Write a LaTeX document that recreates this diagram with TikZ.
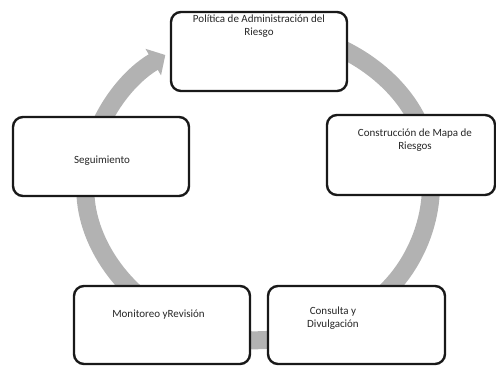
\documentclass[tikz,border=0pt]{standalone}
\usepackage{fontspec}
\setmainfont{Carlito}
\usetikzlibrary{arrows.meta}

\begin{document}
\begin{tikzpicture}[x=1pt,y=-1pt,
  caja/.style={draw=black!90,line width=2.4pt,rounded corners=10pt,fill=white,inner sep=0pt},
  texto/.style={align=center,inner sep=0pt,text=black!85,font=\fontsize{11}{13}\selectfont},
  anillo/.style={draw=black!30,line width=18pt,-{Triangle[length=14pt,width=30pt]}}]

  \useasboundingbox (0,0) rectangle (496,366);

  \coordinate (o) at (259,185);

  \draw[anillo] (o) ++(195:172 and 155) arc[start angle=195,end angle=237,x radius=172,y radius=155];
  \draw[anillo] (o) ++(280:172 and 155) arc[start angle=280,end angle=350,x radius=172,y radius=155];
  \draw[anillo] (o) ++(0:172 and 155) arc[start angle=0,end angle=57,x radius=172,y radius=155];
  \draw[anillo] (o) ++(80:172 and 155) arc[start angle=80,end angle=103,x radius=172,y radius=155];
  \draw[anillo] (o) ++(120:172 and 155) arc[start angle=120,end angle=190,x radius=172,y radius=155];

  \node[caja,minimum width=176pt,minimum height=79pt] (pol) at (259,51.5) {};
  \node[caja,minimum width=168pt,minimum height=80pt] (con) at (411,155) {};
  \node[caja,minimum width=177pt,minimum height=78pt] (cdv) at (356.5,325) {};
  \node[caja,minimum width=176pt,minimum height=78pt] (mon) at (162,325) {};
  \node[caja,minimum width=176pt,minimum height=79pt] (seg) at (101,156.5) {};

  \node[texto] (tpol) at (259,26.5) {Política de Administración del\\Riesgo};
  \node[texto] (tcon) at (415,140.5) {Construcción de Mapa de\\Riesgos};
  \node[texto] (tcdv) at (333,318.5) {Consulta y\\Divulgación};
  \node[texto] (tmon) at (158.5,315) {Monitoreo yRevisión};
  \node[texto] (tseg) at (102,161) {Seguimiento};

\end{tikzpicture}
\end{document}
